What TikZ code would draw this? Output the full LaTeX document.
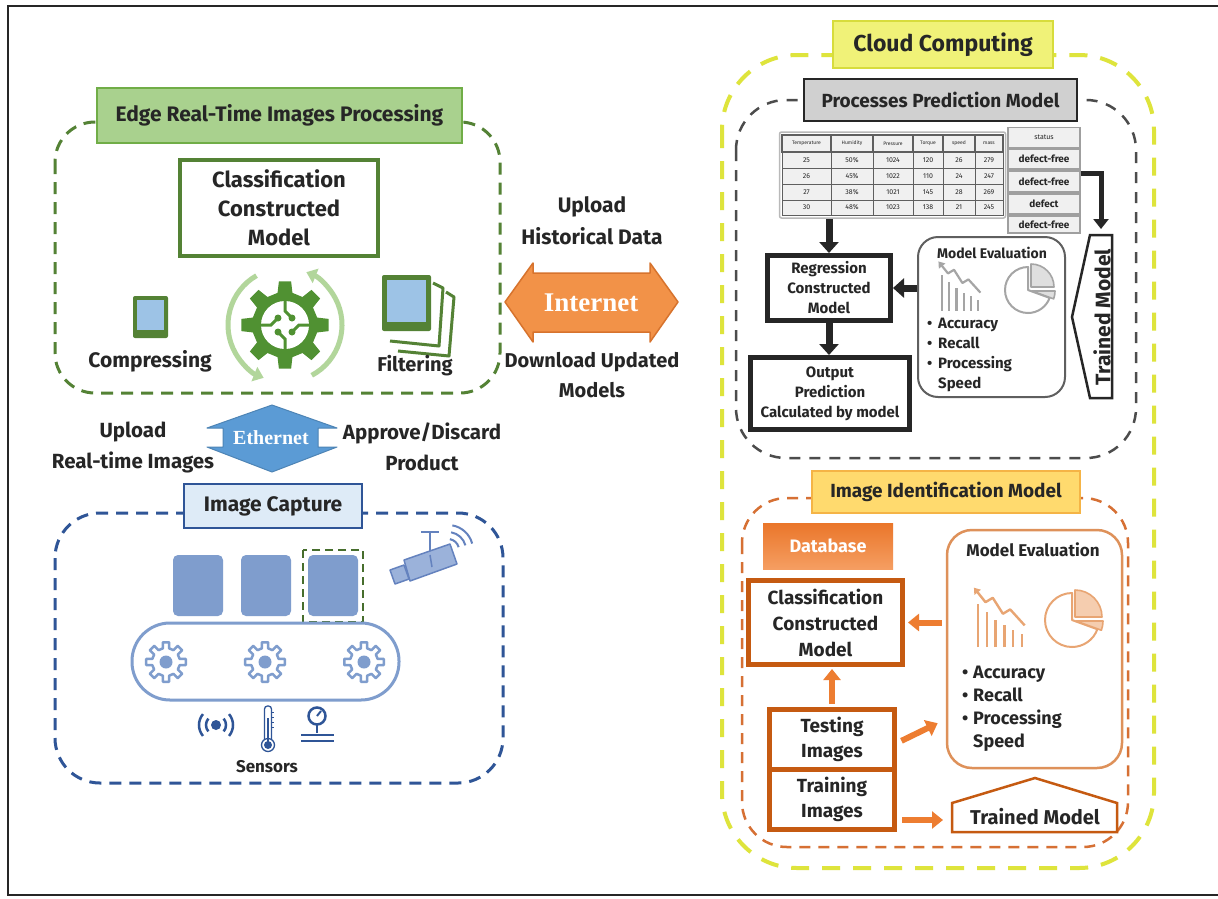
\documentclass[tikz,border=0pt]{standalone}
\usepackage{fontspec}
\setmainfont{Fira Sans}
\newfontfamily\netfont{Liberation Serif}
\usetikzlibrary{arrows.meta}

\definecolor{edgegreen}{RGB}{84,130,53}
\definecolor{titlegreen}{RGB}{169,209,142}
\definecolor{titlegreenline}{RGB}{112,173,71}
\definecolor{gearleaf}{RGB}{80,145,50}
\definecolor{palegreen}{RGB}{178,214,155}
\definecolor{tabblue}{RGB}{157,195,230}
\definecolor{netorange}{RGB}{242,146,72}
\definecolor{netorangeline}{RGB}{215,115,45}
\definecolor{ethblue}{RGB}{91,155,213}
\definecolor{navy}{RGB}{47,85,151}
\definecolor{capfill}{RGB}{222,235,247}
\definecolor{prodblue}{RGB}{127,157,205}
\definecolor{camblue}{RGB}{155,178,218}
\definecolor{camline}{RGB}{100,130,190}
\definecolor{cloudyellow}{RGB}{222,228,60}
\definecolor{cloudline}{RGB}{215,220,60}
\definecolor{cloudfill}{RGB}{240,242,120}
\definecolor{graytitle}{RGB}{208,208,208}
\definecolor{ink}{RGB}{38,38,38}
\definecolor{midgray}{RGB}{95,95,95}
\definecolor{cellgray}{RGB}{240,240,240}
\definecolor{icongray}{RGB}{165,165,165}
\definecolor{dashorange}{RGB}{214,112,52}
\definecolor{idfill}{RGB}{255,218,110}
\definecolor{idline}{RGB}{245,180,70}
\definecolor{dborange}{RGB}{234,118,42}
\definecolor{dblight}{RGB}{245,158,98}
\definecolor{brick}{RGB}{197,90,17}
\definecolor{arroworange}{RGB}{237,125,49}
\definecolor{evalorange}{RGB}{222,145,90}
\definecolor{iconorange}{RGB}{232,165,115}
\definecolor{iconorangefill}{RGB}{245,205,175}

\newcommand\fz[2]{\fontsize{#1}{#2}\selectfont\bfseries}
\newcommand\fr[2]{\fontsize{#1}{#2}\selectfont}
\newcommand\bul{\makebox[11pt][l]{\textbullet}}

% bar chart with a falling trend arrow, drawn around the local origin
\newcommand\charticon[2]{%
  \foreach \bx/\bh in {-15/30,-9/24,-3/19,3/15,9/12,15/9}{\draw[#1, line width=#2] (\bx,-18) -- ++(0,\bh);}
  \draw[#1, line width=#2, line join=round, {Triangle[length=6pt,width=8pt]}-] (-18,23) -- (-10,13) -- (-5,16) -- (2,5) -- (7,8) -- (17,-3);
}
% pie chart with two pulled-out slices
\newcommand\pieicon[3]{%
  \draw[#1, line width=2pt, line join=round] (0,0) -- (90:#3) arc[start angle=90, end angle=340, radius=#3] -- cycle;
  \filldraw[draw=#1, fill=#2, line width=1.6pt, line join=round] (3,3) -- ++(0:#3) arc[start angle=0, end angle=90, radius=#3] -- cycle;
  \filldraw[draw=#1, fill=#2, line width=1.6pt, line join=round] (4,-1) -- ++(-20:#3) arc[start angle=-20, end angle=0, radius=#3] -- cycle;
}

\tikzset{
  txt/.style={align=center, inner sep=0pt, text=ink},
  boxed/.style={draw, align=center, inner sep=2pt, text=ink},
  panel/.style={rounded corners=#1, line width=3pt, dash pattern=on 12pt off 8pt},
  darkarrow/.style={line width=7pt, draw=ink, -{Triangle[length=11pt,width=19pt]}},
  orarrow/.style={line width=6pt, draw=arroworange, -{Triangle[length=11pt,width=17pt]}},
  cell/.style={draw=midgray, fill=cellgray, line width=0.8pt, inner sep=0pt, text=ink},
  statcell/.style={draw=gray!75, fill=cellgray, line width=1.2pt, minimum width=72pt, inner sep=0pt, text=ink},
}

\begin{document}
\begin{tikzpicture}[x=1pt,y=-1pt]
\useasboundingbox (0,0) rectangle (1218,898);
\fill[white] (0,0) rectangle (1218,898);
% outer frame
\draw[line width=2.5pt, black!85] (1220,6) -- (8,6) -- (8,895) -- (1220,895);

%% ---------------- Edge processing ----------------
\draw[edgegreen, panel=40pt] (55,122) rectangle (500,393);
\node[boxed, draw=titlegreenline, fill=titlegreen, line width=1.5pt, minimum width=365pt, minimum height=55pt, font=\fz{21}{24}] (edgetitle) at (279.5,115.5) {Edge Real-Time Images Processing};
\node[boxed, draw=edgegreen, line width=4.5pt, minimum width=198pt, minimum height=96pt, font=\fz{22}{29}] (edgecls) at (279,208) {Classification\\Constructed\\Model};

% compressing tablet
\fill[edgegreen, rounded corners=2pt] (133,296) rectangle (168,338);
\fill[tabblue] (137,300) rectangle (164,330);
\node[txt, font=\fz{21}{24}] (compress) at (150,361) {Compressing};

% filtering: stacked pictures
\draw[edgegreen, line width=3pt, line join=round] (433,283) -- (443,288) -- (439,346) -- (390,341);
\draw[edgegreen, line width=3pt, line join=round] (446,292) -- (454,297) -- (449,356) -- (398,351);
\fill[edgegreen, rounded corners=2pt] (382,275) rectangle (431,331);
\fill[tabblue] (387,280) rectangle (426,322);
\node[txt, font=\fz{20}{24}] (filter) at (415,366) {Filtering};

% processing gear with cycle arrows
\begin{scope}[shift={(285,325)}, yscale=-1]
  \draw[palegreen, line width=5pt, -{Triangle[length=10pt,width=15pt]}] (120:57) arc[start angle=120, end angle=248, radius=57];
  \draw[palegreen, line width=5pt, -{Triangle[length=10pt,width=15pt]}] (-62:57) arc[start angle=-62, end angle=68, radius=57];
  \fill[gearleaf] (-13:33) \foreach \a in {0,45,...,315}{ -- (\a-13:33) -- (\a-8:44) -- (\a+8:44) -- (\a+13:33)} -- cycle;
  \fill[white] (0,0) circle (24);
  \foreach \r in {0,90,180,270}{
    \begin{scope}[rotate=\r]
      \draw[gearleaf, line width=3pt] (0,24) -- (0,14) -- (7,7);
      \fill[gearleaf] (7,7) circle (3.5);
    \end{scope}}
\end{scope}

%% ---------------- Internet link ----------------
\fill[netorange, draw=netorangeline, line width=1.5pt, line join=round] (505,302) -- (533,263) -- (533,273) -- (650,273) -- (650,263) -- (678,302) -- (650,342) -- (650,332) -- (533,332) -- (533,342) -- cycle;
\node[txt, text=white, font=\netfont\fontsize{27}{30}\selectfont\bfseries] (internet) at (591,303) {Internet};
\node[txt, font=\fz{21}{32}] (upl) at (592,221) {Upload\\Historical Data};
\node[txt, font=\fz{20}{30}] (dnl) at (592,375) {Download Updated\\Models};

%% ---------------- Ethernet link ----------------
\fill[ethblue, draw=ethblue!85!black, line width=1pt, line join=round] (272,405) -- (337,428) -- (318,428) -- (318,447) -- (337,447) -- (272,472) -- (207,447) -- (223,447) -- (223,428) -- (207,428) -- cycle;
\node[txt, text=white, font=\netfont\fontsize{20}{22}\selectfont\bfseries] (ethernet) at (271,438) {Ethernet};
\node[txt, font=\fz{20.5}{31}] (uplimg) at (133,447) {Upload\\Real-time Images};
\node[txt, font=\fz{20.5}{31}] (approve) at (422,447) {Approve/Discard\\Product};

%% ---------------- Image capture ----------------
\draw[navy, panel=45pt] (55,513) rectangle (503,783);
\node[boxed, draw=navy, fill=capfill, line width=2pt, minimum width=178pt, minimum height=44pt, font=\fz{21}{24}] (capture) at (273,506) {Image Capture};

% products on the belt
\foreach \x in {173,241,308}{\fill[prodblue, rounded corners=5pt] (\x,555) rectangle ++(50,61);}
\draw[edgegreen!85!black, line width=2.5pt, dash pattern=on 8pt off 5pt] (303,550) rectangle (363,622);

% conveyor belt
\draw[prodblue, line width=3pt, rounded corners=38pt] (132,623) rectangle (399,700);
\foreach \x in {166,265,364}{
  \begin{scope}[shift={(\x,662)}]
    \draw[prodblue, line width=2.5pt, line join=round] (-13:14) \foreach \a in {0,45,...,315}{ -- (\a-13:14) -- (\a-9:20) -- (\a+9:20) -- (\a+13:14)} -- cycle;
    \fill[prodblue] (0,0) circle (6.5);
  \end{scope}}

% camera
\draw[camline, line width=2pt] (421,532) -- (439,532) (430,532) -- (430,555);
\fill[camblue, draw=camline, line width=1.5pt, line join=round] (404,560) -- (450,544) -- (457,564) -- (410,581) -- cycle;
\fill[camblue, draw=camline, line width=1.5pt, line join=round] (390,570) -- (404,565) -- (409,579) -- (395,584) -- cycle;
\draw[camline, line width=1.5pt] (430,555) -- (432,567);
\begin{scope}[shift={(448,550)}, yscale=-1]
  \foreach \r in {11,18,25}{\draw[camline, line width=2pt] (15:\r) arc[start angle=15, end angle=80, radius=\r];}
\end{scope}

% sensors
\begin{scope}[shift={(216,725)}, yscale=-1]
  \fill[navy] (0,0) circle (5);
  \foreach \r in {10,17}{
    \draw[navy, line width=2.5pt] (-40:\r) arc[start angle=-40, end angle=40, radius=\r];
    \draw[navy, line width=2.5pt] (140:\r) arc[start angle=140, end angle=220, radius=\r];}
\end{scope}
\draw[navy, line width=1.3pt, rounded corners=3pt] (264.5,739) -- (264.5,706) -- (271.5,706) -- (271.5,739);
\draw[navy, line width=1.3pt] (268,745) circle (6.5);
\fill[navy] (268,745) circle (4);
\draw[navy, line width=2pt] (268,718) -- (268,742);
\foreach \ty in {712,717,722,727}{\draw[navy, line width=0.8pt] (271.5,\ty) -- (274,\ty);}
\draw[navy, line width=2.5pt] (317,716) circle (8.5);
\draw[navy, line width=2pt] (317,716) -- (321,711);
\draw[navy, line width=2.5pt] (317,724.5) -- (317,733);
\draw[navy, line width=2pt] (301,735) -- (334,735) (301,741) -- (334,741);
\node[txt, font=\fz{17}{20}] (sensors) at (267,767) {Sensors};

%% ---------------- Cloud computing ----------------
\draw[cloudyellow, line width=4pt, rounded corners=75pt, dash pattern=on 18pt off 13pt] (722,55) rectangle (1154,868);
\node[boxed, draw=cloudline, fill=cloudfill, line width=1.5pt, minimum width=220pt, minimum height=47pt, font=\fz{23}{26}] (cloudtitle) at (943,44.5) {Cloud Computing};

% processes prediction model
\draw[midgray!80!black, line width=2.5pt, rounded corners=50pt, dash pattern=on 11pt off 9pt] (736,100) rectangle (1136,458);
\node[boxed, draw=ink, fill=graytitle, line width=2pt, minimum width=273pt, minimum height=42pt, font=\fz{19}{22}] (pptitle) at (940.5,100) {Processes Prediction Model};

% historical data table
\node[draw=gray!55, line width=1.5pt, rounded corners=2pt, minimum width=226pt, minimum height=86pt, inner sep=0pt] (tbl) at (892.5,175) {};
\foreach \xc/\w/\hd/\ra/\rb/\rc/\rd in {806.5/49/Temperature/25/26/27/30, 852/42/Humidity/50\%/45\%/38\%/48\%, 893/40/Pressure/1024/1022/1021/1023, 928/30/Torque/120/110/145/138, 959/32/speed/26/24/28/21, 989/28/mass/279/247/269/245}{
  \node[cell, line width=1.4pt, minimum width=\w pt, minimum height=17pt, font=\fr{5}{6}] at (\xc,143.5) {\hd};
  \node[cell, minimum width=\w pt, minimum height=16pt, font=\fr{7}{8}] at (\xc,160) {\ra};
  \node[cell, minimum width=\w pt, minimum height=16pt, font=\fr{7}{8}] at (\xc,176) {\rb};
  \node[cell, minimum width=\w pt, minimum height=16pt, font=\fr{7}{8}] at (\xc,192) {\rc};
  \node[cell, minimum width=\w pt, minimum height=15pt, font=\fr{7}{8}] at (\xc,207.5) {\rd};
}
\node[statcell, minimum height=20pt, font=\fr{7}{8}] (st0) at (1044,137.5) {status};
\node[statcell, minimum height=20pt, font=\fz{10}{12}] (st1) at (1044,159) {defect-free};
\node[statcell, minimum height=21pt, font=\fz{10}{12}] (st2) at (1044,181.5) {defect-free};
\node[statcell, minimum height=20pt, font=\fz{10}{12}] (st3) at (1044,204) {defect};
\node[statcell, minimum height=17pt, font=\fz{10}{12}] (st4) at (1044,224.5) {defect-free};

\node[boxed, draw=ink, line width=5pt, minimum width=123pt, minimum height=65pt, font=\fz{15}{20}] (reg) at (829,288) {Regression\\Constructed\\Model};
\node[boxed, draw=ink, line width=5pt, minimum width=159pt, minimum height=72pt, font=\fz{15}{20}] (out) at (830,393.5) {Output\\Prediction\\Calculated by model};

\node[draw=midgray, line width=2pt, rounded corners=20pt, minimum width=147pt, minimum height=160pt] (geval) at (991.5,317) {};
\node[txt, font=\fz{14}{16}] (gevalt) at (992,253) {Model Evaluation};
\begin{scope}[shift={(960,289)}, yscale=-1, scale=1.2]
  \charticon{icongray}{2.2pt}
\end{scope}
\begin{scope}[shift={(1028,290)}, yscale=-1]
  \pieicon{icongray}{gray!25}{23}
\end{scope}
\node[txt, align=left, anchor=west, font=\fz{15}{20}] (gevall) at (927,355) {\bul Accuracy\\\bul Recall\\\bul Processing\\\makebox[11pt]{}Speed};

% trained model (prediction side)
\draw[ink, line width=2.5pt, line join=miter] (1090,235) -- (1112,235) -- (1112,398) -- (1090,398) -- (1072,317) -- cycle;
\node[txt, rotate=90, font=\fz{21}{22}] (tmg) at (1102,317) {Trained Model};
\coordinate (tmtop) at (1101,235);

\draw[darkarrow] (reg.north |- tbl.south) -- (reg.north);
\draw[darkarrow] (reg.south) -- (reg.south |- out.north);
\draw[darkarrow] (geval.west |- reg.east) -- (reg.east);
\draw[darkarrow, line width=5pt, -{Triangle[length=10pt,width=15pt]}, shorten >=6pt] ([yshift=-3pt]st2.north east) -| (tmtop);

%% ---------------- Image identification model ----------------
\draw[dashorange, line width=2.5pt, rounded corners=45pt, dash pattern=on 11pt off 8pt] (742,498) rectangle (1128,847);
\node[boxed, draw=idline, fill=idfill, line width=1.5pt, minimum width=268pt, minimum height=42pt, font=\fz{19}{22}] (idtitle) at (946,492) {Image Identification Model};
\node[boxed, draw=none, top color=dborange, bottom color=dblight, minimum width=130pt, minimum height=46pt, font=\fz{18}{22}, text=white] (db) at (828,546) {Database};

\node[boxed, draw=brick, line width=5pt, minimum width=154pt, minimum height=84pt, font=\fz{19}{26}] (cls2) at (825.5,622.5) {Classification\\Constructed\\Model};
\node[boxed, draw=brick, line width=5pt, minimum width=125pt, minimum height=60pt, font=\fz{19}{25}] (test) at (832,739) {Testing\\Images};
\node[boxed, draw=brick, line width=5pt, minimum width=125pt, minimum height=60pt, font=\fz{19}{25}] (train) at (832,799) {Training\\Images};

\node[draw=evalorange, line width=2.5pt, rounded corners=25pt, minimum width=175pt, minimum height=238pt] (oeval) at (1034.5,649) {};
\node[txt, font=\fz{17}{20}] (oevalt) at (1033,550) {Model Evaluation};
\begin{scope}[shift={(1000,621)}, yscale=-1, scale=1.45]
  \charticon{iconorange}{2.4pt}
\end{scope}
\begin{scope}[shift={(1072,620)}, yscale=-1]
  \pieicon{iconorange}{iconorangefill}{27}
\end{scope}
\node[txt, align=left, anchor=west, font=\fz{18}{23}] (oevall) at (962,709) {\bul Accuracy\\\bul Recall\\\bul Processing\\\makebox[11pt]{}Speed};

% trained model (identification side)
\draw[brick, line width=2.5pt, line join=miter] (952,832) -- (952,803) -- (1035,778) -- (1117,803) -- (1117,832) -- cycle;
\node[txt, font=\fz{20}{22}] (tmo) at (1035,817) {Trained Model};
\coordinate (tmoleft) at (952,820);

\draw[orarrow, shorten <=4pt, shorten >=3pt] (oeval.west |- cls2.east) -- (cls2.east);
\draw[orarrow, shorten <=3pt, shorten >=2pt] (test.north) -- (test.north |- cls2.south);
\draw[orarrow, shorten <=5pt, shorten >=9pt] ([yshift=-4pt]test.east) -- ([yshift=50pt]oeval.south west);
\draw[orarrow, shorten <=5pt, shorten >=9pt] (train.east |- tmoleft) -- (tmoleft);
\end{tikzpicture}
\end{document}
